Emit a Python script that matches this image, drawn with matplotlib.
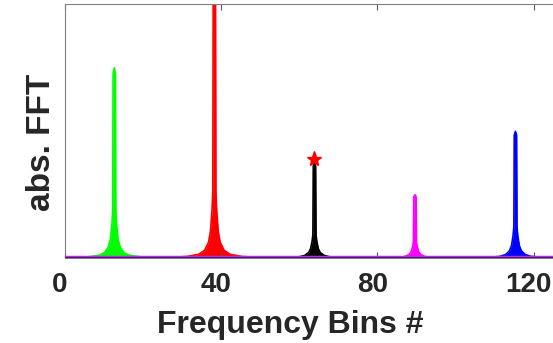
import matplotlib.pyplot as plt
import matplotlib.transforms as mtransforms
import numpy as np

plt.rc('font', family='Liberation Sans', weight='bold')

# peak centres (frequency bins), heights (normalised abs. FFT) and colours
peak_bins = [12.7, 38.3, 63.9, 89.6, 115.3]
peak_heights = [0.75, 1.05, 0.375, 0.25, 0.50]
peak_colors = ['#00ff00', '#ff0000', '#000000', '#ff00ff', '#0000ff']

# shared peak shape: offset in bins -> fraction of peak height
shape_offsets = [-12, -7, -4, -2.5, -1.5, -1.0, -0.6, -0.4, -0.3, 0,
                 0.3, 0.4, 0.6, 1.0, 1.5, 2.5, 4, 7, 12]
shape_fracs = [0.002, 0.007, 0.015, 0.03, 0.06, 0.1, 0.18, 0.25, 0.97, 1.0,
               0.97, 0.25, 0.18, 0.1, 0.06, 0.03, 0.015, 0.007, 0.002]

star_bin = 63.9
star_val = 0.39

fig = plt.figure(figsize=(5.53, 3.43), dpi=100)
ax = fig.add_axes([64.6/553, 84.7/343, 130*3.91/553, 254/343])

offs = np.array(shape_offsets)
fr = np.array(shape_fracs)
for c, h, col in zip(peak_bins, peak_heights, peak_colors):
    xs = c + offs
    ys = h * fr
    ax.fill_between(xs, 0, ys, color=col, lw=0)
    ax.plot(xs, ys, color=col, lw=1.2)

# noise floor of the overlapped spectra
ax.plot([0, 130], [0.007, 0.007], color='#cc22dd', lw=2.5, zorder=5)
ax.plot([0, 130], [0.0, 0.0], color='#1a1a6a', lw=1.2, zorder=6)

ax.plot(star_bin, star_val, marker='*', color='#ff0000', markersize=11,
        linestyle='none', zorder=7)

ax.set_xlim(0, 130)
ax.set_ylim(0, 1)
ax.set_xticks([0, 40, 80, 120])
ax.set_yticks([])
ax.tick_params(axis='x', direction='in', length=4, top=True, labelsize=20,
               labelcolor='#262626', color='#555555', pad=10)
# tick labels sit a few pixels left of their ticks in the reference
shift = mtransforms.ScaledTranslation(-5/100, 0, fig.dpi_scale_trans)
for lab in ax.get_xticklabels():
    lab.set_transform(lab.get_transform() + shift)
for s in ax.spines.values():
    s.set_color('#808080')
    s.set_linewidth(0.8)

ax.set_xlabel('Frequency Bins #', fontsize=23, fontweight='bold',
              color='#262626')
ax.xaxis.set_label_coords(0.443, -0.205)
ax.set_ylabel('abs. FFT', fontsize=24, fontweight='bold', color='#262626')
ax.yaxis.set_label_coords(-0.015, 0.456)

fig.savefig('out.png', dpi=100)
